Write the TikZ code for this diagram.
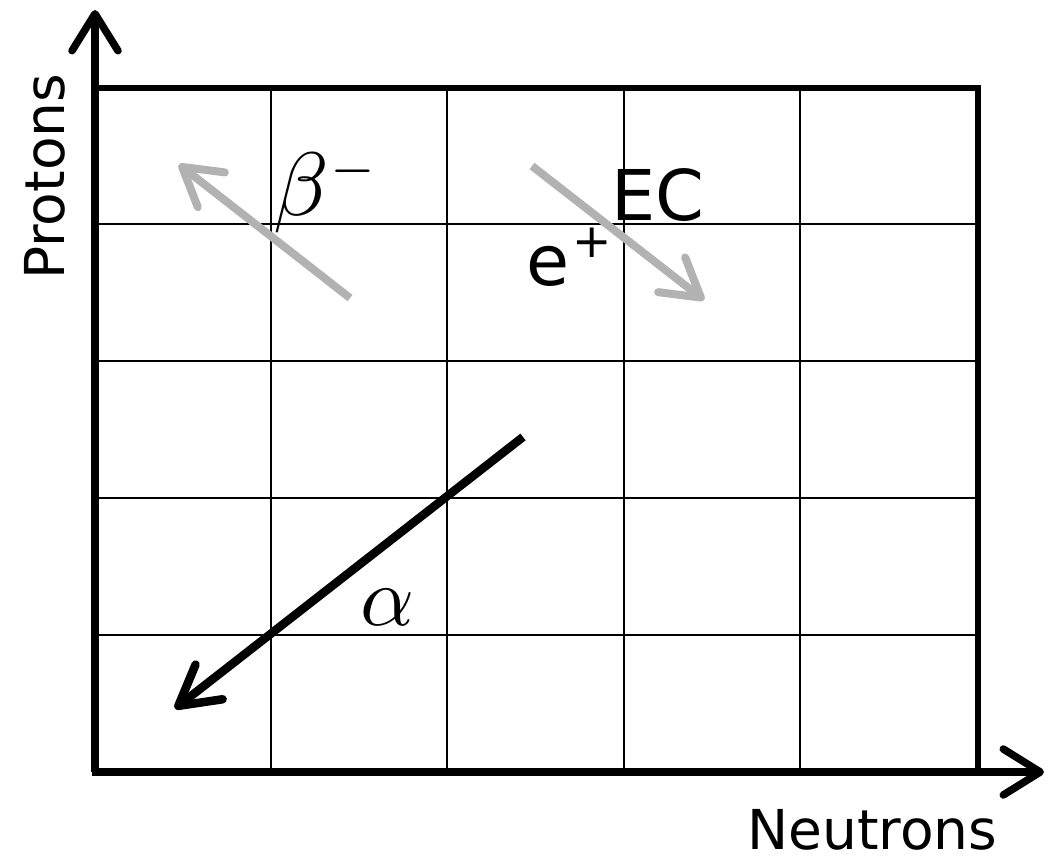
\documentclass[tikz,border=0pt]{standalone}
\usepackage{fontspec}
\setmainfont{DejaVu Sans}
\usetikzlibrary{arrows.meta}
\tikzset{
  gridline/.style={line width=2pt, black},
  rim/.style={line width=6pt, black, line cap=rect},
  axis/.style={line width=7.5pt, black, -{Straight Barb[length=37pt, width=46pt, line cap=round, line join=round]}},
  decay/.style={line width=8pt, black!30, -{Straight Barb[length=37pt, width=44pt, line cap=round, line join=round]}},
  alphaarrow/.style={line width=8.5pt, black, -{Straight Barb[length=39pt, width=44pt, line cap=round, line join=round]}},
  lbl/.style={inner sep=0pt, font=\fontsize{55}{60}\selectfont},
  biglbl/.style={inner sep=0pt, font=\fontsize{70}{80}\selectfont},
}
\begin{document}
\begin{tikzpicture}[x=1pt, y=-1pt]
\useasboundingbox (0,0) rectangle (1049,862);
% grid
\foreach \x in {271,447,624,800} \draw[gridline] (\x,88) -- (\x,772);
\foreach \y in {224,361,498,635} \draw[gridline] (95,\y) -- (977,\y);
\draw[rim] (95,88) -- (977.5,88) -- (977.5,772);
% axes
\coordinate (o) at (95,772);
\coordinate (ytip) at (95,10);
\coordinate (xstart) at (91.5,772);
\coordinate (xtip) at (1044,772);
\draw[axis] (o) -- (ytip);
\draw[axis] (xstart) -- (xtip);
% decay arrows
\coordinate (bs) at (350,298);
\coordinate (be) at (179,164.5);
\draw[decay] (bs) -- (be);
\coordinate (es) at (532,166);
\coordinate (ee) at (704,300);
\draw[decay] (es) -- (ee);
\coordinate (as) at (523,437);
\coordinate (ae) at (175,708.5);
\draw[alphaarrow] (as) -- (ae);
% labels
\node[inner sep=0pt, anchor=base west] (beta) at (273,215) {\scalebox{9}{$\beta^{\scriptscriptstyle -}$}};
\node[biglbl, anchor=base west] (ec) at (611,220) {EC};
\node[biglbl, anchor=base west] (ep) at (526,285) {e\kern3pt\raisebox{28pt}{\fontsize{47}{50}\selectfont +}};
\node[inner sep=0pt, anchor=base west] (alpha) at (360,625) {\scalebox{8.4}{$\alpha$}};
\node[lbl, anchor=base west] (neut) at (747,849) {Neutrons};
\node[lbl, anchor=base west, rotate=90] (prot) at (64,280) {Protons};
\end{tikzpicture}
\end{document}
